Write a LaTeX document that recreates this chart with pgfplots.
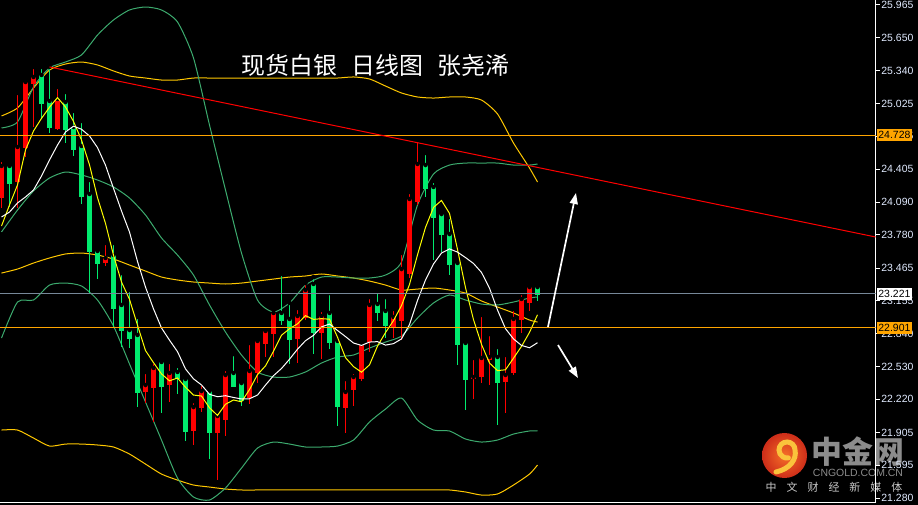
\documentclass[border=0pt]{standalone}
\usepackage{pgfplots}
\pgfplotsset{compat=1.18}
\usepackage{pgfplotstable}
\usepackage{fontspec}
\setmainfont{Liberation Sans}
\newfontfamily\cjk{Noto Sans CJK SC}
\usetikzlibrary{arrows.meta}
\definecolor{cRed}{RGB}{255,0,0}
\definecolor{cGreen}{RGB}{0,235,110}
\definecolor{bandG}{RGB}{60,170,110}
\definecolor{bandY}{RGB}{255,200,0}
\definecolor{maY}{RGB}{255,255,0}
\definecolor{hOrange}{RGB}{255,165,0}
\definecolor{hGray}{RGB}{119,136,153}
\definecolor{tickC}{RGB}{225,235,255}
\definecolor{logoIn}{RGB}{245,110,40}
\definecolor{logoOut}{RGB}{205,45,25}
\definecolor{swirlC}{RGB}{250,195,60}
\definecolor{logoGray}{RGB}{140,140,140}
\definecolor{logoLight}{RGB}{200,200,200}

% up (red) candles: k open high low close
\pgfplotstableread{
k o h l c
1 24.140 24.491 24.035 24.434
3 24.292 25.127 24.035 24.614
4 24.614 25.269 24.519 25.231
5 25.222 25.374 24.804 25.279
8 24.795 25.184 24.776 25.070
14 23.523 23.703 23.485 23.561
19 22.298 22.479 22.184 22.355
20 22.336 22.574 22.004 22.517
22 22.365 22.574 22.194 22.469
25 21.928 22.203 21.786 22.146
26 22.146 22.365 22.099 22.298
28 21.909 22.089 21.453 22.061
29 22.033 22.507 21.871 22.450
32 22.241 22.754 22.175 22.488
33 22.479 22.801 22.374 22.773
34 22.754 22.906 22.621 22.868
35 22.849 23.067 22.621 23.039
38 22.801 23.086 22.564 23.010
39 23.001 23.323 22.972 23.257
41 22.858 23.067 22.602 23.010
44 22.146 22.412 21.900 22.289
45 22.317 22.479 22.156 22.431
46 22.422 22.773 22.393 22.744
47 22.773 23.190 22.668 23.115
50 22.915 23.077 22.801 23.001
51 22.972 23.608 22.782 23.456
52 23.418 24.187 23.371 24.121
53 24.102 24.681 24.064 24.453
60 22.422 22.612 22.222 22.431
61 22.441 23.020 22.374 22.612
62 22.602 22.839 22.355 22.621
64 22.393 22.640 22.089 22.450
65 22.479 23.077 22.450 22.982
66 22.982 23.228 22.849 23.172
67 23.143 23.323 23.058 23.285
}\upT

% down (green) candles
\pgfplotstableread{
k o h l c
2 24.434 24.453 24.045 24.273
6 25.298 25.374 24.890 25.032
7 25.051 25.374 24.747 24.804
9 25.041 25.136 24.652 24.785
10 24.804 24.956 24.529 24.595
11 24.624 24.861 24.073 24.149
12 24.168 24.301 23.228 23.627
13 23.627 23.665 23.361 23.513
15 23.589 23.703 22.896 23.086
16 23.115 23.418 22.716 22.877
17 22.877 23.257 22.706 22.801
18 22.830 23.001 22.146 22.289
21 22.574 22.583 22.089 22.346
23 22.479 22.536 22.270 22.422
24 22.412 22.412 21.824 21.919
27 22.298 22.308 21.653 21.909
30 22.469 22.649 22.336 22.346
31 22.374 22.374 22.156 22.213
36 23.039 23.409 22.925 22.972
37 22.982 23.134 22.555 22.792
40 23.314 23.380 22.649 22.858
42 23.039 23.228 22.697 22.763
43 22.773 22.773 21.966 22.156
48 23.124 23.247 22.963 23.048
49 23.058 23.190 22.801 22.925
54 24.443 24.557 24.140 24.225
55 24.235 24.292 23.542 23.950
56 23.978 23.978 23.618 23.788
57 23.788 23.950 23.399 23.504
58 23.513 23.513 22.545 22.744
59 22.754 22.792 22.118 22.412
63 22.621 22.716 21.976 22.384
68 23.285 23.285 23.153 23.219
}\downT

% moving averages
\pgfplotstableread{
k ma5 ma10
1 23.864 23.950
2 24.064 23.997
3 24.254 24.083
4 24.586 24.140
5 24.766 24.206
6 24.886 24.339
7 24.992 24.491
8 25.083 24.633
9 24.994 24.757
10 24.857 24.812
11 24.681 24.783
12 24.445 24.719
13 24.134 24.609
14 23.889 24.442
15 23.587 24.222
16 23.333 24.007
17 23.168 23.807
18 22.923 23.528
19 22.682 23.285
20 22.568 23.078
21 22.461 22.897
22 22.395 22.781
23 22.422 22.672
24 22.334 22.508
25 22.260 22.414
26 22.251 22.356
27 22.139 22.267
28 22.067 22.244
29 22.173 22.254
30 22.213 22.237
31 22.196 22.223
32 22.312 22.225
33 22.454 22.260
34 22.537 22.355
35 22.676 22.444
36 22.828 22.512
37 22.889 22.600
38 22.936 22.695
39 23.014 22.776
40 22.978 22.827
41 22.985 22.907
42 22.980 22.934
43 22.809 22.873
44 22.615 22.815
45 22.530 22.754
46 22.477 22.731
47 22.547 22.763
48 22.725 22.767
49 22.853 22.734
50 22.967 22.748
51 23.109 22.793
52 23.310 22.929
53 23.591 23.158
54 23.851 23.352
55 24.041 23.504
56 24.107 23.608
57 23.984 23.647
58 23.642 23.617
59 23.280 23.565
60 22.976 23.509
61 22.741 23.424
62 22.564 23.274
63 22.492 23.067
64 22.500 22.890
65 22.610 22.793
66 22.722 22.731
67 22.855 22.709
68 23.022 22.757
}\maT

% bands: green set g1 g2 g3, yellow set y1 y2 y3
\pgfplotstableread{
k g1 g2 g3 y1 y2 y3
1 24.795 23.808 22.801 24.909 23.418 21.928
3 24.852 24.016 23.143 24.985 23.456 21.928
5 25.184 24.197 23.162 25.174 23.513 21.852
7 25.364 24.320 23.304 25.345 23.561 21.776
9 25.421 24.377 23.323 25.402 23.599 21.795
11 25.488 24.349 23.295 25.421 23.608 21.795
13 25.677 24.301 23.162 25.393 23.589 21.786
15 25.820 24.235 22.915 25.336 23.551 21.767
17 25.915 24.130 22.555 25.288 23.494 21.700
19 25.943 23.969 22.194 25.269 23.437 21.605
21 25.915 23.751 21.833 25.250 23.380 21.510
23 25.801 23.589 21.472 25.250 23.352 21.453
25 25.459 23.399 21.292 25.269 23.333 21.406
27 24.823 23.115 21.264 25.269 23.323 21.387
29 24.206 22.858 21.378 25.269 23.314 21.368
31 23.608 22.640 21.567 25.269 23.323 21.359
33 23.162 22.479 21.757 25.269 23.342 21.359
35 23.048 22.431 21.814 25.269 23.361 21.359
37 23.134 22.431 21.795 25.269 23.380 21.359
39 23.304 22.479 21.767 25.269 23.390 21.359
41 23.380 22.564 21.767 25.269 23.409 21.359
43 23.380 22.621 21.776 25.269 23.390 21.359
45 23.371 22.640 21.833 25.279 23.371 21.359
47 23.371 22.706 22.004 25.260 23.342 21.359
49 23.399 22.763 22.127 25.193 23.304 21.359
51 23.523 22.820 22.232 25.127 23.257 21.359
53 24.064 22.991 22.023 25.089 23.266 21.359
55 24.358 23.134 21.928 25.079 23.276 21.359
57 24.443 23.210 21.919 25.089 23.257 21.359
59 24.462 23.162 21.843 25.089 23.228 21.340
61 24.462 23.124 21.814 25.060 23.153 21.311
63 24.462 23.115 21.833 24.928 23.096 21.321
65 24.443 23.143 21.890 24.652 23.039 21.406
67 24.443 23.181 21.919 24.415 22.972 21.510
68 24.453 23.191 21.919 24.282 22.953 21.596
}\bandT

\begin{document}
\begin{tikzpicture}
\useasboundingbox (0,0) rectangle (918bp,505bp);
\fill[black] (0,0) rectangle (918bp,505bp);

% logo (watermark, drawn beneath the axis)
\shade[inner color=logoIn, outer color=logoOut] (784.5bp,49.5bp) circle (22.5bp);
\draw[swirlC, line width=5bp, line cap=round] (776bp,33bp) .. controls (790bp,36bp) and (797bp,46bp) .. (795bp,55bp)
  arc[start angle=0, end angle=280, radius=8bp];
\node[text=logoGray, font=\cjk\bfseries\fontsize{31}{31}\selectfont, inner sep=0pt] at (858bp,53bp) {中金网};
\node[text=logoGray, font=\fontsize{10.5}{11}\selectfont, inner sep=0pt] at (858bp,32bp) {CNGOLD.COM.CN};
\node[text=logoLight, font=\cjk\fontsize{11}{11}\selectfont, inner sep=0pt] at (834bp,18bp) {中\hspace{10bp}文\hspace{10bp}财\hspace{10bp}经\hspace{10bp}新\hspace{10bp}媒\hspace{10bp}体};

\begin{axis}[
  at={(0bp,3bp)}, anchor=south west,
  scale only axis, width=875.7bp, height=502bp,
  xmin=0.8125, xmax=110.275, ymin=21.245, ymax=26.0096,
  axis x line*=bottom, axis y line*=right,
  axis line style={white, line width=1bp},
  xtick=\empty,
  ytick={21.280,21.595,21.905,22.220,22.530,22.840,23.155,23.465,23.780,24.090,24.405,24.715,25.025,25.340,25.650,25.965},
  /pgf/number format/assume math mode=true,
  yticklabel={\pgfmathprintnumber[fixed,fixed zerofill,precision=3]{\tick}},
  yticklabel style={font=\fontsize{10.5}{12}\selectfont, text=tickC, inner xsep=1.5bp},
  tick align=outside, major tick length=4bp,
  tick style={white, line width=1bp},
  clip mode=individual,
]
% bands
\addplot[bandY, line width=1bp, smooth, tension=0.4] table[x=k,y=y1] \bandT;
\addplot[bandY, line width=1bp, smooth, tension=0.4] table[x=k,y=y2] \bandT;
\addplot[bandY, line width=1bp, smooth, tension=0.4] table[x=k,y=y3] \bandT;
\addplot[bandG, line width=1bp, smooth, tension=0.4] table[x=k,y=g1] \bandT;
\addplot[bandG, line width=1bp, smooth, tension=0.4] table[x=k,y=g2] \bandT;
\addplot[bandG, line width=1bp, smooth, tension=0.4] table[x=k,y=g3] \bandT;

% wicks
\addplot[only marks, mark=none, error bars/.cd, y dir=minus, y explicit, error mark=none,
  error bar style={draw=cRed, line width=1bp}]
  table[x=k, y=h, y error minus expr=\thisrow{h}-\thisrow{l}] \upT;
\addplot[only marks, mark=none, error bars/.cd, y dir=minus, y explicit, error mark=none,
  error bar style={draw=cGreen, line width=1bp}]
  table[x=k, y=h, y error minus expr=\thisrow{h}-\thisrow{l}] \downT;
% bodies
\addplot[only marks, mark=none, error bars/.cd, y dir=minus, y explicit, error mark=none,
  error bar style={draw=cRed, line width=5bp}]
  table[x=k, y=c, y error minus expr=\thisrow{c}-\thisrow{o}+0.008] \upT;
\addplot[only marks, mark=none, error bars/.cd, y dir=minus, y explicit, error mark=none,
  error bar style={draw=cGreen, line width=5bp}]
  table[x=k, y=o, y error minus expr=\thisrow{o}-\thisrow{c}+0.008] \downT;

% moving averages
\addplot[maY, line width=1bp] table[x=k,y=ma5] \maT;
\addplot[white, line width=1bp] table[x=k,y=ma10] \maT;

% horizontal levels and trend line
\addplot[hOrange, line width=1bp] coordinates {(0.8125,24.728) (110.275,24.728)};
\addplot[hOrange, line width=1bp] coordinates {(0.8125,22.901) (110.275,22.901)};
\addplot[hGray, line width=1bp] coordinates {(0.8125,23.221) (110.275,23.221)};
\addplot[cRed, line width=1bp] coordinates {(7,25.374) (110.275,23.760)};

% arrows
\draw[white, line width=1.7bp, -{Triangle[length=11bp,width=8bp]}] (axis cs:69.31,22.906) -- (axis cs:72.81,24.178);
\draw[white, line width=1.7bp, -{Triangle[length=11bp,width=8bp]}] (axis cs:70.56,22.735) -- (axis cs:73.06,22.422);

% price boxes
\node[fill=hOrange, text=black, anchor=west, xshift=1bp, inner xsep=1.5bp, inner ysep=2.3bp, font=\fontsize{10.5}{12}\selectfont] at (axis cs:110.275,24.728) {24.728};
\node[fill=white, text=black, anchor=west, xshift=1bp, inner xsep=1.5bp, inner ysep=2.3bp, font=\fontsize{10.5}{12}\selectfont] at (axis cs:110.275,23.221) {23.221};
\node[fill=hOrange, text=black, anchor=west, xshift=1bp, inner xsep=1.5bp, inner ysep=2.3bp, font=\fontsize{10.5}{12}\selectfont] at (axis cs:110.275,22.901) {22.901};
\end{axis}

% title
\node[text=white, font=\cjk\fontsize{24}{24}\selectfont, inner sep=0pt] at (375.5bp,440bp) {现货白银\hspace{14bp}日线图\hspace{14bp}张尧浠};
\end{tikzpicture}
\end{document}
